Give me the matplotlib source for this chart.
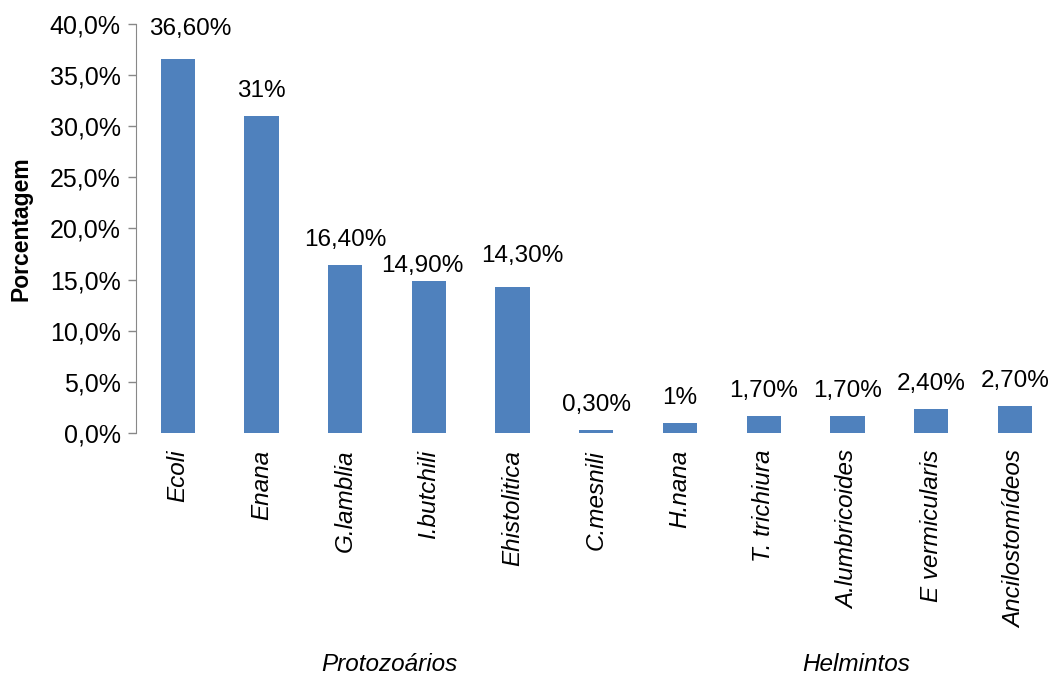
import matplotlib
matplotlib.use("Agg")
import matplotlib.pyplot as plt
from matplotlib.ticker import FuncFormatter

categories = ["Ecoli", "Enana", "G.lamblia", "I.butchili", "Ehistolitica", "C.mesnili",
              "H.nana", "T. trichiura", "A.lumbricoides", "E vermicularis", "Ancilostomídeos"]
values = [36.6, 31.0, 16.4, 14.9, 14.3, 0.3, 1.0, 1.7, 1.7, 2.4, 2.7]
value_labels = ["36,60%", "31%", "16,40%", "14,90%", "14,30%", "0,30%",
                "1%", "1,70%", "1,70%", "2,40%", "2,70%"]
groups = ["Protozoários", "Helmintos"]
group_centers = [2.53, 8.1]

# hand-placed label nudges (points) to keep neighbouring labels apart
label_nudge = {0: (9, 3), 3: (-5, -7), 4: (7, 4)}

plt.rcParams["font.family"] = ["Liberation Sans", "DejaVu Sans"]

fig = plt.figure(figsize=(10.62, 6.77), dpi=100)
ax = fig.add_axes([0.128, 0.36, 0.867, 0.605])

x = list(range(len(categories)))
bars = ax.bar(x, values, width=0.41, color="#4F81BD")

for i, (xi, v, lab) in enumerate(zip(x, values, value_labels)):
    dx, dy = label_nudge.get(i, (0, 0))
    ax.annotate(lab, (xi, v), xytext=(dx, 10 + dy), textcoords="offset points",
                ha="center", va="bottom", fontsize=17.5)

ax.set_xlim(-0.5, len(categories) - 0.5)
ax.set_ylim(0, 40)
ax.set_yticks(range(0, 41, 5))
ax.yaxis.set_major_formatter(FuncFormatter(lambda v, p: f"{v:.1f}%".replace(".", ",")))
ax.tick_params(axis="y", labelsize=18, color="#888888", length=6, width=1, pad=5)
ax.set_xticks(x)
ax.set_xticklabels(categories, rotation=90, fontsize=17.5, style="italic")
ax.tick_params(axis="x", length=0, pad=12)

for side in ["top", "right", "bottom"]:
    ax.spines[side].set_visible(False)
ax.spines["left"].set_color("#888888")

ax.set_ylabel("Porcentagem", fontsize=16.5, fontweight="bold", labelpad=12)

for g, gc in zip(groups, group_centers):
    ax.text(gc, -0.565, g, transform=ax.get_xaxis_transform(), ha="center",
            va="center", fontsize=17.5, style="italic")

fig.savefig("out.png", dpi=100)
